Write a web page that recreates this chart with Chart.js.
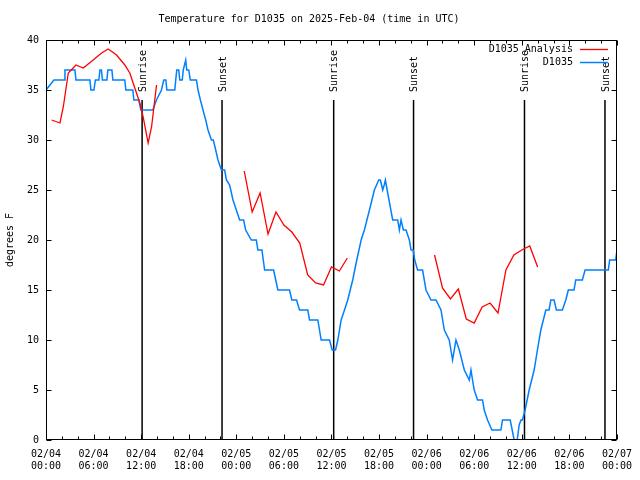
<!DOCTYPE html>
<html>
<head>
<meta charset="utf-8">
<script src="https://cdn.jsdelivr.net/npm/chart.js@4/dist/chart.umd.min.js"></script>
<style>
  body { margin: 0; background: #fff; }
  #wrap { width: 640px; height: 480px; }
</style>
</head>
<body>
<div id="wrap"><canvas id="myChart" width="640" height="480"></canvas></div>
<script>
// hours since 02/04 00:00 UTC
const obsHours = [0, 1.0, 2.27, 2.39, 3.65, 3.78, 5.54, 5.66, 6.04, 6.23, 6.67, 6.80, 6.99, 7.11, 7.68, 7.80, 8.31, 8.43, 9.94, 10.07,
  10.95, 11.08, 11.71, 11.96, 13.47, 13.93, 14.56, 14.85, 15.11, 15.24, 16.24, 16.36, 16.49, 16.74, 16.87, 17.18, 17.31, 17.62, 17.75, 18.0,
  18.2, 18.97, 19.17, 19.47, 19.80, 20.14, 20.43, 20.86, 21.1, 21.40, 21.69, 22.12, 22.53, 22.75, 23.16, 23.58, 24.0, 24.42, 24.92, 25.18,
  25.89, 26.52, 26.72, 27.23, 27.40, 27.57, 28.70, 28.97, 29.24, 30.71, 31.0, 31.6, 31.97, 33.02, 33.23, 34.28, 34.70, 35.75, 36.09, 36.51,
  36.80, 37.22, 37.64, 38.05, 38.68, 39.11, 39.74, 40.15, 40.79, 41.41, 41.96, 42.17, 42.46, 42.65, 42.80, 43.09, 43.72, 44.35, 44.56, 44.77,
  45.07, 45.40, 45.82, 46.03, 46.3, 46.5, 46.86, 47.49, 47.92, 48.55, 49.18, 49.81, 50.23, 50.85, 51.27, 51.70, 52.12, 52.75, 53.38, 53.59,
  53.79, 54.0, 54.42, 55.05, 55.26, 55.68, 56.23, 57.36, 57.57, 58.54, 59.04, 59.42, 59.67, 59.9, 60.08, 60.42, 60.93, 61.56, 61.97, 62.40,
  62.81, 63.03, 63.44, 63.66, 64.07, 64.36, 65.12, 65.55, 65.87, 66.59, 66.80, 67.64, 67.98, 70.91, 71.08, 71.84, 72]
const obsTemps = [35, 36, 36, 37, 37, 36, 36, 35, 35, 36, 36, 37, 37, 36, 36, 37, 37, 36, 36, 35,
  35, 34, 34, 33, 33, 34, 35, 36, 36, 35, 35, 36, 37, 37, 36, 36, 37, 38, 37, 37,
  36, 36, 35, 34, 33, 32, 31, 30, 30, 29, 28, 27, 27, 26, 25.5, 24, 23, 22, 22, 21,
  20, 20, 19, 19, 18, 17, 17, 16, 15, 15, 14, 14, 13, 13, 12, 12, 10, 10, 9, 9,
  10, 12, 13, 14, 16, 17.7, 20, 21, 23, 25, 26, 26, 25, 25.5, 26, 24.7, 22, 22, 21, 22,
  21, 21, 20, 19, 19, 18, 17, 17, 15, 14, 14, 13, 11, 10, 8, 10, 9, 7, 6, 7,
  6, 5, 4, 4, 3, 2, 1, 1, 2, 2, 0, 0, 1.5, 2, 2, 3, 5, 7, 9, 11,
  12.3, 13, 13, 14, 14, 13, 13, 14, 15, 15, 16, 16, 17, 17, 18, 18, 19]

const analysisHours = [0.72, 1.76, 2.18, 2.81, 3.78, 4.70, 5.95, 7.01, 7.84, 8.90, 9.94, 10.57, 11.20, 11.83, 12.25, 12.88, 13.31, 13.94,
  19,
  25, 26, 27, 28, 29, 30, 31, 32, 33, 34, 35, 36, 37, 38,
  43,
  49, 50, 51, 52, 53, 54, 55, 56, 57, 58, 59, 60, 61, 62]
const analysisTemps = [32, 31.7, 33.3, 36.7, 37.5, 37.2, 38, 38.7, 39.1, 38.5, 37.5, 36.7, 35.2, 33.7, 32.3, 29.7, 31.3, 35.5,
  null,
  26.9, 22.8, 24.7, 20.6, 22.8, 21.5, 20.8, 19.7, 16.5, 15.7, 15.5, 17.3, 16.9, 18.2,
  null,
  18.5, 15.2, 14.1, 15.1, 12.1, 11.7, 13.3, 13.7, 12.7, 17, 18.5, 19, 19.4, 17.3]

const sunriseHours = [12.12, 36.28, 60.34]
const sunsetHours = [22.2, 46.35, 70.49]
const sunLineTop = 34
const sunLabelBase = 34.8

const xTickDates = ['02/04', '02/04', '02/04', '02/04', '02/05', '02/05', '02/05', '02/05', '02/06', '02/06', '02/06', '02/06', '02/07']
const xTickTimes = ['00:00', '06:00', '12:00', '18:00', '00:00', '06:00', '12:00', '18:00', '00:00', '06:00', '12:00', '18:00', '00:00']

const FONT = "'DejaVu Sans Mono', monospace"
Chart.defaults.font.family = FONT
Chart.defaults.font.size = 10
Chart.defaults.color = '#000'

const toPoints = (xs, ys) => xs.map((x, i) => ({x, y: ys[i]}))

// vertical sunrise/sunset markers, broken by nulls
const sunPoints = []
sunriseHours.concat(sunsetHours).forEach(h => {
  sunPoints.push({x: h, y: 0}, {x: h, y: sunLineTop}, {x: h, y: null})
})

// ticks, frame, sun labels and legend in gnuplot style
const overlay = {
  id: 'overlay',
  afterDatasetsDraw(chart) {
    const {ctx, chartArea: a, scales: {x, y}} = chart
    ctx.save()
    ctx.strokeStyle = '#000'
    ctx.lineWidth = 1
    const L = Math.round(a.left) + 0.5, R = Math.round(a.right) - 0.5
    const T = Math.round(a.top) + 0.5, B = Math.round(a.bottom) - 0.5
    ctx.beginPath()
    for (let h = 0; h <= 72; h += 2) {
      const px = Math.round(x.getPixelForValue(h)) + 0.5
      const len = h % 6 === 0 ? 5 : 3
      ctx.moveTo(px, B); ctx.lineTo(px, B - len)
      ctx.moveTo(px, T); ctx.lineTo(px, T + len)
    }
    for (let v = 0; v <= 40; v += 5) {
      const py = Math.round(y.getPixelForValue(v)) + 0.5
      ctx.moveTo(L, py); ctx.lineTo(L + 5, py)
      ctx.moveTo(R, py); ctx.lineTo(R - 5, py)
    }
    ctx.stroke()
    ctx.strokeRect(L, T, R - L, B - T)

    // sunrise / sunset labels
    ctx.fillStyle = '#000'
    ctx.font = '10px ' + FONT
    ctx.textAlign = 'left'
    ctx.textBaseline = 'middle'
    const label = (h, txt) => {
      ctx.save()
      ctx.translate(x.getPixelForValue(h) + 1, y.getPixelForValue(sunLabelBase))
      ctx.rotate(-Math.PI / 2)
      ctx.fillText(txt, 0, 0)
      ctx.restore()
    }
    sunriseHours.forEach(h => label(h, 'Sunrise'))
    sunsetHours.forEach(h => label(h, 'Sunset'))

    // legend
    ctx.textAlign = 'right'
    const items = chart.data.datasets.filter(d => d.showInKey)
    items.forEach((d, i) => {
      const ly = a.top + 9.5 + i * 13
      ctx.fillStyle = '#000'
      ctx.fillText(d.label, a.right - 44, ly)
      ctx.strokeStyle = d.borderColor
      ctx.lineWidth = d.borderWidth
      ctx.beginPath()
      ctx.moveTo(a.right - 37, Math.round(ly) - 0.5)
      ctx.lineTo(a.right - 9, Math.round(ly) - 0.5)
      ctx.stroke()
    })
    ctx.restore()
  }
}

const config = {
  type: 'line',
  data: {
    datasets: [
      {
        label: 'D1035 Analysis',
        data: toPoints(analysisHours, analysisTemps),
        borderColor: '#ff0000',
        borderWidth: 1.3,
        showInKey: true,
        order: 1
      },
      {
        label: 'D1035',
        data: toPoints(obsHours, obsTemps),
        borderColor: '#0080ff',
        borderWidth: 1.5,
        showInKey: true,
        order: 2
      },
      {
        label: 'sun',
        data: sunPoints,
        borderColor: '#000',
        borderWidth: 1.5,
        order: 3
      }
    ]
  },
  options: {
    responsive: false,
    animation: false,
    spanGaps: false,
    elements: {
      point: {radius: 0},
      line: {tension: 0}
    },
    layout: {padding: {left: 0, right: 22, top: 0, bottom: 0}},
    plugins: {
      legend: {display: false},
      tooltip: {enabled: false},
      title: {
        display: true,
        text: 'Temperature for D1035 on 2025-Feb-04 (time in UTC)',
        font: {family: FONT, size: 10, weight: 'normal'},
        color: '#000',
        padding: {top: 13, bottom: 15}
      }
    },
    scales: {
      x: {
        type: 'linear',
        min: 0,
        max: 72,
        grid: {display: false, drawTicks: false},
        border: {display: false},
        ticks: {
          stepSize: 6,
          autoSkip: false,
          maxRotation: 0,
          padding: 8,
          font: {family: FONT, size: 10, lineHeight: 1.2},
          callback: v => [xTickDates[v / 6], xTickTimes[v / 6]]
        },
        afterFit: s => { s.height = 40 }
      },
      y: {
        min: 0,
        max: 40,
        grid: {display: false, drawTicks: false},
        border: {display: false},
        ticks: {stepSize: 5, padding: 7, font: {family: FONT, size: 10}},
        title: {
          display: true,
          text: 'degrees F',
          font: {family: FONT, size: 10},
          padding: {top: 4, bottom: 0}
        },
        afterFit: s => { s.width = 46 }
      }
    }
  },
  plugins: [overlay]
}

new Chart(document.getElementById('myChart'), config)
</script>
</body>
</html>
